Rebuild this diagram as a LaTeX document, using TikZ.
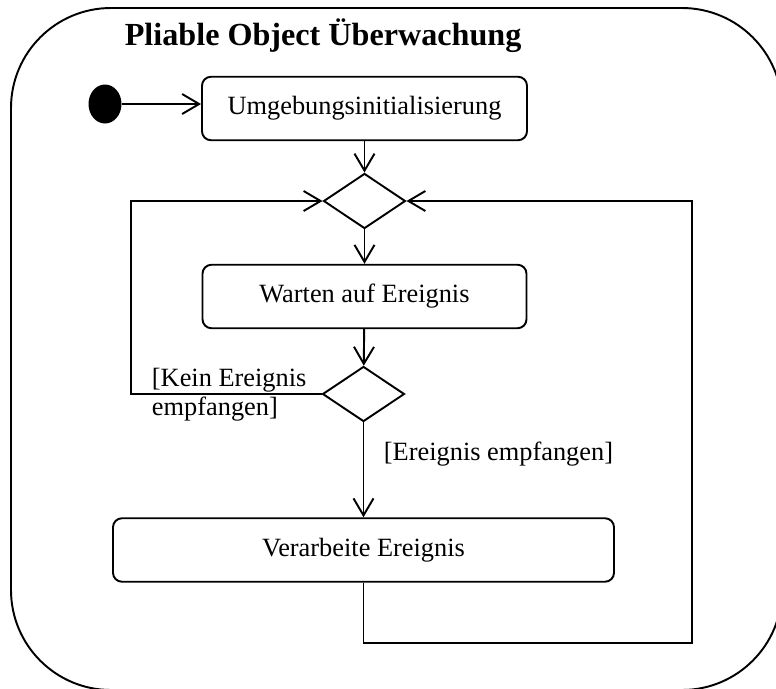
\documentclass[tikz,border=0pt]{standalone}
\usepackage{fontspec}
\setmainfont{Liberation Serif}
\usetikzlibrary{shapes.geometric,arrows.meta}
\begin{document}
\begin{tikzpicture}[line width=1.1pt,>={Straight Barb[length=0.34cm,width=0.4cm]},
  font=\fontsize{15}{18}\selectfont,
  aktion/.style={draw,rounded corners=0.18cm,minimum height=1.27cm,inner sep=0pt},
  entscheidung/.style={draw,diamond,minimum width=1.64cm,minimum height=1.1cm,inner sep=0pt}]
\useasboundingbox (0,0) rectangle (15.52,-13.76);
\clip (0,0) rectangle (15.52,-13.76);
\draw[rounded corners=2cm] (0.22,-0.16) rectangle (15.64,-13.8);
\node[anchor=base west,font=\fontsize{18.3}{22}\selectfont\bfseries] (titel) at (2.36,-0.9) {Pliable Object Überwachung};
\node[ellipse,fill,minimum width=0.66cm,minimum height=0.78cm,inner sep=0pt] (start) at (2.1,-2.08) {};
\node[aktion,minimum width=6.5cm] (init) at (7.29,-2.17) {Umgebungsinitialisierung};
\node[entscheidung] (d1) at (7.29,-4.02) {};
\node[aktion,minimum width=6.48cm] (warten) at (7.29,-5.93) {Warten auf Ereignis};
\node[entscheidung] (d2) at (7.27,-7.88) {};
\node[aktion,minimum width=10.02cm] (verarb) at (7.27,-11) {Verarbeite Ereignis};
\node[anchor=west,align=left,inner sep=0pt,font=\fontsize{15}{16.5}\selectfont] (kein) at (3.02,-7.9) {[Kein Ereignis\\empfangen]};
\node[anchor=base west,inner sep=0pt] (empf) at (7.66,-9.2) {[Ereignis empfangen]};
\coordinate (links) at (2.62,-7.88);
\coordinate (unten) at (7.27,-12.86);
\coordinate (rechts) at (13.84,-12.86);
\draw[->] (start) -- (start -| init.west);
\draw[->] (init) -- (d1);
\draw[->] (d1) -- (warten);
\draw[->] (warten) -- (d2);
\draw[->] (d2) -- (verarb);
\draw[->] (d2.west) -- (links) |- (d1.west);
\draw[->] (verarb) -- (unten) -- (rechts) |- (d1.east);
\end{tikzpicture}
\end{document}
